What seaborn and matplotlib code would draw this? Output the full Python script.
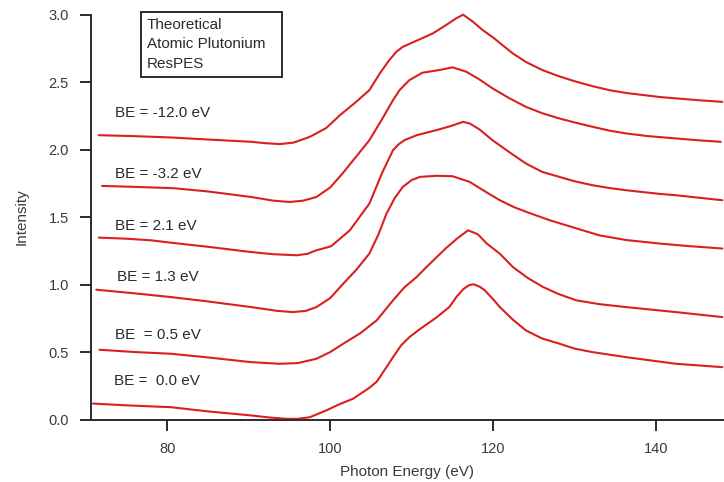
import matplotlib
matplotlib.use("Agg")
import matplotlib.pyplot as plt
import matplotlib.patches as mpatches
import pandas as pd
import seaborn as sns

# Binding-energy labels for each simulated ResPES trace
be_labels = ["BE = -12.0 eV", "BE = -3.2 eV", "BE = 2.1 eV",
             "BE = 1.3 eV", "BE  = 0.5 eV", "BE =  0.0 eV"]

# Photon energy (eV) / intensity samples for every trace, stacked with offsets
x_be_m12 = [71.6, 76.0, 80.5, 85.0, 90.3, 92.0, 93.8, 95.5, 97.5, 99.5, 101.2, 103.0,
            104.8, 106.1, 107.2, 108.1, 108.9, 110.5, 112.6, 114.2, 115.5, 116.3,
            117.5, 118.7, 120.0, 120.8, 122.4, 124.0, 126.0, 128.0, 130.2, 132.2,
            134.3, 136.3, 140.4, 142.4, 145.0, 148.1]
y_be_m12 = [2.107, 2.100, 2.090, 2.075, 2.058, 2.048, 2.041, 2.052, 2.095, 2.160, 2.256, 2.345,
            2.441, 2.567, 2.660, 2.725, 2.762, 2.805, 2.862, 2.923, 2.975, 3.000,
            2.948, 2.886, 2.830, 2.790, 2.713, 2.650, 2.590, 2.545, 2.503, 2.470,
            2.440, 2.420, 2.390, 2.380, 2.367, 2.354]

x_be_m32 = [72.0, 76.0, 80.8, 85.0, 90.3, 93.0, 95.0, 96.7, 98.3, 100.0, 101.5, 103.2,
            104.8, 106.3, 107.7, 108.5, 109.7, 111.3, 113.4, 115.0, 116.7, 118.3,
            119.9, 122.0, 124.0, 126.0, 128.1, 130.2, 132.2, 134.3, 136.3, 139.0,
            142.4, 145.0, 147.9]
y_be_m32 = [1.731, 1.724, 1.714, 1.690, 1.649, 1.622, 1.612, 1.622, 1.649, 1.720, 1.823, 1.950,
            2.070, 2.220, 2.367, 2.441, 2.515, 2.570, 2.590, 2.610, 2.577, 2.520,
            2.454, 2.380, 2.317, 2.270, 2.231, 2.198, 2.169, 2.140, 2.120, 2.100,
            2.083, 2.070, 2.058]

x_be_21 = [71.6, 75.0, 78.0, 80.5, 85.0, 90.3, 93.0, 95.9, 97.2, 98.3, 100.1, 102.4,
           104.8, 106.4, 107.7, 108.4, 109.1, 110.6, 113.0, 114.8, 116.3, 117.1,
           118.3, 119.9, 122.0, 124.0, 126.0, 128.1, 130.0, 132.2, 134.3, 136.3,
           140.4, 142.4, 145.0, 148.1]
y_be_21 = [1.348, 1.340, 1.328, 1.310, 1.280, 1.241, 1.225, 1.217, 1.228, 1.254, 1.284, 1.402,
           1.600, 1.833, 1.996, 2.040, 2.070, 2.107, 2.144, 2.175, 2.206, 2.194,
           2.150, 2.070, 1.980, 1.897, 1.835, 1.798, 1.765, 1.736, 1.715, 1.699,
           1.672, 1.662, 1.645, 1.625]

x_be_13 = [71.3, 76.0, 80.5, 85.0, 90.3, 93.5, 95.4, 97.0, 98.3, 100.0, 101.6, 103.2,
           104.8, 105.9, 106.9, 107.9, 108.9, 110.0, 111.0, 113.0, 115.0, 117.1,
           119.0, 120.8, 122.5, 124.0, 126.9, 130.0, 133.0, 136.3, 140.4, 144.0, 148.1]
y_be_13 = [0.962, 0.935, 0.907, 0.875, 0.833, 0.805, 0.796, 0.805, 0.833, 0.900, 1.007, 1.110,
           1.230, 1.370, 1.526, 1.640, 1.724, 1.775, 1.798, 1.806, 1.803, 1.761,
           1.690, 1.625, 1.575, 1.540, 1.477, 1.420, 1.365, 1.330, 1.304, 1.285, 1.267]

x_be_05 = [71.7, 76.0, 80.5, 85.0, 90.3, 93.8, 96.0, 98.3, 100.0, 101.6, 103.7, 105.7,
           107.7, 109.1, 110.6, 111.8, 113.0, 114.2, 115.6, 116.9, 118.1, 119.2,
           120.8, 122.4, 124.2, 126.1, 128.0, 130.2, 133.0, 136.3, 142.4, 148.1]
y_be_05 = [0.517, 0.500, 0.487, 0.460, 0.425, 0.413, 0.418, 0.450, 0.500, 0.562, 0.640, 0.735,
           0.883, 0.980, 1.056, 1.130, 1.200, 1.270, 1.343, 1.402, 1.373, 1.304,
           1.229, 1.130, 1.050, 0.982, 0.930, 0.883, 0.855, 0.833, 0.796, 0.759]

x_be_00 = [70.9, 75.0, 80.5, 85.0, 90.3, 92.5, 94.6, 96.0, 97.5, 99.5, 101.0, 102.8,
           104.8, 105.7, 106.7, 107.7, 108.7, 109.7, 111.0, 113.0, 114.6, 115.5,
           116.3, 117.0, 117.6, 118.3, 118.9, 120.0, 120.8, 122.4, 124.0, 126.0,
           128.1, 130.0, 132.2, 136.3, 142.4, 148.1]
y_be_00 = [0.118, 0.105, 0.091, 0.060, 0.030, 0.015, 0.005, 0.005, 0.017, 0.067, 0.110, 0.154,
           0.235, 0.280, 0.370, 0.462, 0.550, 0.610, 0.670, 0.755, 0.833, 0.910,
           0.965, 0.995, 1.002, 0.985, 0.960, 0.890, 0.833, 0.740, 0.660, 0.600,
           0.562, 0.525, 0.499, 0.462, 0.413, 0.388]

traces = [(x_be_m12, y_be_m12), (x_be_m32, y_be_m32), (x_be_21, y_be_21),
          (x_be_13, y_be_13), (x_be_05, y_be_05), (x_be_00, y_be_00)]

# Label anchor (photon energy, intensity) for each trace annotation
label_x = [73.6, 73.6, 73.6, 73.8, 73.6, 73.5]
label_y = [2.271, 1.818, 1.432, 1.054, 0.623, 0.282]

legend_lines = ["Theoretical", "Atomic Plutonium", "ResPES"]

xlabel = "Photon Energy (eV)"
ylabel = "Intensity"
xticks = [80, 100, 120, 140]
yticks = [0.0, 0.5, 1.0, 1.5, 2.0, 2.5, 3.0]

frames = []
for lab, (xs, ys) in zip(be_labels, traces):
    frames.append(pd.DataFrame({"energy": xs, "intensity": ys, "trace": lab}))
df = pd.concat(frames, ignore_index=True)

sns.set_theme(style="ticks")
plt.rcParams["font.family"] = ["Liberation Sans", "DejaVu Sans"]

W, H = 724, 482
fig = plt.figure(figsize=(W / 100, H / 100), dpi=100)
ax = fig.add_axes([91 / W, 1 - 419.5 / H, (W - 91) / W, (419.5 - 14.7) / H])

red = "#da1f1f"
sns.lineplot(data=df, x="energy", y="intensity", hue="trace", units="trace",
             estimator=None, sort=True, palette=[red] * len(be_labels),
             linewidth=1.5, legend=False, ax=ax)
for ln in ax.get_lines():
    ln.set_clip_on(False)
    ln.set_solid_joinstyle("round")

ax.set_xlim(70.65, 148.3)
ax.set_ylim(0, 3.0)
ax.set_xticks(xticks)
ax.set_yticks(yticks)
ax.set_yticklabels([f"{v:.1f}" for v in yticks])

for side in ("top", "right"):
    ax.spines[side].set_visible(False)
for side in ("left", "bottom"):
    ax.spines[side].set_color("#2b2b2b")
    ax.spines[side].set_linewidth(1.4)
ax.tick_params(axis="both", direction="out", length=8, width=1.4,
               color="#2b2b2b", labelsize=10.5, labelcolor="#3a3a3a", pad=8)

ax.set_xlabel(xlabel, fontsize=11, color="#3a3a3a", labelpad=7)
ax.set_ylabel(ylabel, fontsize=11, color="#3a3a3a", labelpad=14)

for lab, lx, ly in zip(be_labels, label_x, label_y):
    ax.text(lx, ly, lab, fontsize=11, color="#2a2a2a", ha="left", va="center")

# Title box in the upper left
box = mpatches.Rectangle((141 / W, 1 - 77.3 / H), (281.7 - 141) / W, (77.3 - 11.7) / H,
                         transform=fig.transFigure, fill=False,
                         edgecolor="#2b2b2b", linewidth=1.4)
fig.patches.append(box)
for i, line in enumerate(legend_lines):
    fig.text(146.7 / W, 1 - (25 + 19.5 * i) / H, line, fontsize=11,
             color="#2a2a2a", ha="left", va="center")

fig.savefig("out.png", dpi=100)
